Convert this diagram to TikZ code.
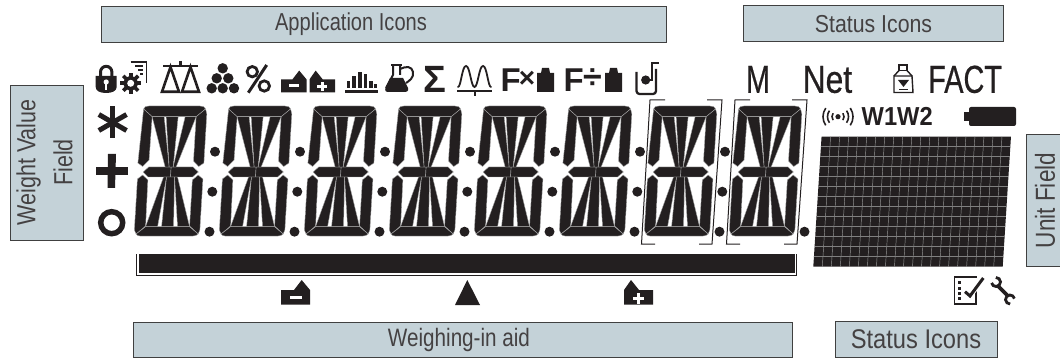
\documentclass[tikz,border=0pt]{standalone}
\usepackage{fontspec}
\setmainfont{Liberation Sans}
\newfontfamily\lblfont[FakeStretch=.82]{Liberation Sans}
\newfontfamily\dspfont[FakeStretch=.74,FakeBold=.5]{Liberation Sans}
\definecolor{ink}{HTML}{231F20}
\definecolor{panel}{HTML}{C4D2D8}
\definecolor{sep}{HTML}{A8A8A8}
\tikzset{
  lbox/.style={draw=black!75,line width=.8pt,fill=panel,inner sep=0pt},
  ltext/.style={inner sep=0pt,text=ink!85,align=center,font=\lblfont\fontsize{24.5}{37}\selectfont},
  seg/.style={fill=ink,draw=sep,line width=.4pt,line join=round},
  solid ink/.style={fill=ink,draw=none},
  outl/.style={draw=ink,line width=2.6pt,fill=none},
  thin ink/.style={draw=ink,line width=1pt},
  dsptext/.style={text=ink,inner sep=0pt,font=\dspfont\fontsize{39}{39}\selectfont},
  icontext/.style={text=ink,inner sep=0pt},
}
\newcommand\lcddigit[1]{%
\begin{scope}[shift={(#1,236)},xslant=.06]
 \path[seg] (1,-127) .. controls (2,-129.5) and (3,-130) .. (6,-130) -- (57,-130) .. controls (60,-130) and (62,-129.5) .. (63,-127) -- (54,-119.3) -- (10,-119.3) -- cycle;
 \path[seg] (1,-127) -- (10,-119.3) -- (9.5,-76) -- (3.5,-69.5) -- (-1.5,-73) -- cycle;
 \path[seg] (63,-127) -- (54,-119.3) -- (54,-75) -- (59.5,-69.5) -- (64.5,-73) -- (64.5,-122) -- cycle;
 \path[seg] (4,-61) -- (9.5,-56) -- (10,-10) -- (1,-2) -- (-1,-6) -- (-1,-57) -- cycle;
 \path[seg] (59.5,-61) -- (54,-56) -- (54,-10) -- (63,-2) -- (64.5,-6) -- (64.5,-57) -- cycle;
 \path[seg] (1,-2) -- (10,-9.3) -- (54,-9.3) -- (63,-2) .. controls (62,-.5) and (60,0) .. (58,0) -- (5,0) .. controls (3,0) and (2,-.5) .. (1,-2) -- cycle;
 \path[seg] (4.4,-64) -- (9.5,-69) -- (32,-69) -- (32,-59) -- (9.5,-59) -- cycle;
 \path[seg] (59.5,-64) -- (54,-69) -- (32,-69) -- (32,-59) -- (54,-59) -- cycle;
 \path[seg] (10,-119.3) -- (22,-119.3) -- (30,-69) -- (26,-69) -- cycle;
 \path[seg] (24,-119.3) -- (36,-119.3) -- (34,-69) -- (30,-69) -- cycle;
 \path[seg] (43,-119.3) -- (54,-119.3) -- (37,-69) -- (34,-69) -- cycle;
 \path[seg] (25,-59) -- (28,-59) -- (22,-9.3) -- (10,-9.3) -- cycle;
 \path[seg] (28,-59) -- (36,-59) -- (38,-9.3) -- (26,-9.3) -- cycle;
 \path[seg] (36,-59) -- (39,-59) -- (54,-9.3) -- (42,-9.3) -- cycle;
\end{scope}}
\newcommand\minusicon[3]{% x y scale ; origin bottom-left
\begin{scope}[shift={(#1,#2)},scale=#3]
 \path[solid ink] (0,0) -- (0,-14.7) -- (13,-14.7) -- (20.7,-24.7) -- (29,-14.7) -- (29,0) -- cycle;
 \path[fill=white] (9,-9) rectangle (20.7,-6);
\end{scope}}
\newcommand\plusicon[3]{%
\begin{scope}[shift={(#1,#2)},scale=#3]
 \path[solid ink] (0,0) -- (0,-14.7) -- (7,-24.7) -- (15,-14.7) -- (29,-14.7) -- (29,0) -- cycle;
 \path[fill=white] (9,-7.9) rectangle (20,-5);
 \path[fill=white] (13,-12) rectangle (16,-1);
\end{scope}}
\newcommand\massblock[1]{%
 \path[solid ink] (#1,92) -- (#1,73) -- (#1+4,73) -- (#1+5,68) -- (#1+12,68) -- (#1+13,73) -- (#1+17,73) -- (#1+17,92) -- cycle;}
\begin{document}
\begin{tikzpicture}[x=1pt,y=-1pt]
\useasboundingbox (0,0) rectangle (1060,358);
% label panels
\node[lbox,minimum width=565pt,minimum height=36pt] (appbox) at (383.5,24) {};
\node[ltext] (app) at (351,24) {Application Icons};
\node[lbox,minimum width=260pt,minimum height=36pt] (st1box) at (873,23.5) {};
\node[ltext,xscale=1.06,transform shape] (st1) at (873.5,24) {Status Icons};
\node[lbox,minimum width=73pt,minimum height=155pt] (wvfbox) at (46.5,162.5) {};
\node[ltext,font=\lblfont\fontsize{26.2}{37}\selectfont] (wvf) at (46.5,162.5) {\rotatebox{90}{\begin{tabular}{@{}c@{}}Weight Value\\Field\end{tabular}}};
\node[lbox,minimum width=40pt,minimum height=132pt] (ufbox) at (1046,200) {};
\node[ltext,font=\lblfont\fontsize{27.5}{37}\selectfont] (uf) at (1045,200.5) {\rotatebox{90}{Unit Field}};
\node[lbox,minimum width=659pt,minimum height=35pt] (wiabox) at (462.5,339.5) {};
\node[ltext,font=\lblfont\fontsize{25.2}{37}\selectfont] (wia) at (459,339.5) {Weighing-in aid};
\node[lbox,minimum width=162pt,minimum height=36pt] (st2box) at (916,339) {};
\node[ltext,font=\lblfont\fontsize{27}{37}\selectfont,xscale=1.07,transform shape] (st2) at (916,339) {Status Icons};
% digits
\foreach \k in {0,...,7} {\lcddigit{135+85*\k}}
\foreach \k in {0,...,6} {
  \path[solid ink] (215+85*\k,151.7) circle (5);
  \path[solid ink] (212.3+85*\k,191.7) circle (5);
}
\foreach \k in {0,...,7} {\path[solid ink] (209.5+85*\k,231.7) circle (5);}
% brackets
\foreach \k in {0,1} {
  \draw[thin ink] (665+85*\k,100) -- (650+85*\k,100) -- (641.5+85*\k,244) -- (655+85*\k,244);
  \draw[thin ink] (707+85*\k,100) -- (722+85*\k,100) -- (712+85*\k,244) -- (699+85*\k,244);
}
% bar
\path[solid ink] (138.5,254) rectangle (795,273);
\draw[thin ink] (136.7,254) -- (136.7,275.3) -- (796.8,275.3) -- (796.8,254);
% left symbols
\begin{scope}[shift={(112.7,122.5)}]
 \foreach \a in {90,-30,210} {\draw[draw=ink,line width=5pt] (0,0) -- ++(\a:16);}
 \foreach \a in {-90,30,150} {\draw[draw=ink,line width=5pt] (0,0) -- ++(\a:16);}
\end{scope}
\path[solid ink] (108,154) -- (116,154) -- (115,188) -- (107.5,188) -- cycle;
\path[solid ink] (95.7,167.5) rectangle (128.3,175.5);
\draw[draw=ink,line width=5.5pt] (111.7,222.7) circle (11);
% lock
\draw[draw=ink,line width=3pt] (100.5,76) -- (100.5,72) arc[start angle=180,end angle=360,radius=5.7] -- (111.9,76);
\path[solid ink] (95.7,76) -- (116.7,76) -- (116.7,87) .. controls (116.7,91) and (112,93) .. (106.2,93) .. controls (100,93) and (95.7,91) .. (95.7,87) -- cycle;
\path[fill=white] (106.2,82) circle (2.6);
\path[fill=white] (105,83) rectangle (107.4,90);
% document + gear
\draw[draw=ink,line width=1.4pt] (130.5,62) -- (146.3,62) -- (146.3,83);
\draw[draw=ink,line width=1.2pt] (135,66) -- (143,66) (138,70) -- (143,70) (140,74) -- (143,74);
\path[fill=white] (130.7,83.3) circle (11.5);
\foreach \a in {0,45,...,315} {\draw[draw=ink,line width=3.6pt] (130.7,83.3) -- ++(\a:10.5);}
\draw[draw=ink,line width=4pt] (130.7,83.3) circle (5.5);
\path[fill=white] (130.7,83.3) circle (3.5);
% balance
\draw[draw=ink,line width=2.4pt] (163,66) -- (198,66);
\draw[draw=ink,line width=2.6pt] (180.5,61) -- (180.5,66);
\draw[outl,line join=miter] (170.5,67) -- (162,91.8) -- (179,91.8) -- cycle;
\draw[outl,line join=miter] (190.5,67) -- (182,91.8) -- (199,91.8) -- cycle;
% dots
\foreach \p in {(222.7,68.3),(216.7,78.3),(228.3,78.3),(211.7,88.3),(222.7,88.3),(234,88.3)} {\path[solid ink] \p circle (5.2);}
% percent
\draw[draw=ink,line width=3pt] (266.7,65) -- (248.3,92.7);
\draw[draw=ink,line width=2.8pt] (252.3,71.7) circle (5.2);
\draw[draw=ink,line width=2.8pt] (264.3,86) circle (5.2);
% scale icons
\minusicon{281}{92.3}{.88}
\plusicon{309.5}{92.3}{.88}
% bars
\path[solid ink] (345,90.5) rectangle (378,93);
\path[solid ink] (347,81) rectangle (350,88.5);
\path[solid ink] (352,76) rectangle (355.5,88.5);
\path[solid ink] (357.5,72) rectangle (361.5,88.5);
\path[solid ink] (363.5,74) rectangle (367,88.5);
\path[solid ink] (369,81) rectangle (372.5,88.5);
\path[solid ink] (374,84) rectangle (377,88.5);
% flask
\draw[draw=ink,line width=2pt,line join=round] (393,66) -- (393,75) -- (386,88) (400,66) -- (400,75);
\path[solid ink] (390,78) -- (403,78) -- (408,88) .. controls (409,91) and (407,92) .. (404,92) -- (389,92) .. controls (386,92) and (384.5,91) .. (385.5,88) -- cycle;
\draw[draw=ink,line width=2pt] (391,65.5) -- (402,65.5);
\draw[draw=ink,line width=2pt] (400,69) .. controls (406,66) and (412,66) .. (413,72) .. controls (414,78) and (409,81) .. (406,83);
% sigma
\node[icontext,font=\bfseries\fontsize{38}{38}\selectfont] (sig) at (435,79.5) {Σ};
% wave
\draw[draw=ink,line width=1.8pt,line cap=round] (458,87) .. controls (461,87) and (462,66) .. (466,66) .. controls (470,66) and (471,87) .. (474.5,87) .. controls (478,87) and (479,66) .. (483,66) .. controls (487,66) and (488,87) .. (491,87);
\path[solid ink] (457,90.5) rectangle (492,92.5);
\path[solid ink] (473.5,92) rectangle (475.5,96.5);
% Fx
\node[icontext,font=\bfseries\fontsize{33}{33}\selectfont,anchor=base west] (f1) at (500.5,92) {F};
\node[icontext,font=\bfseries\fontsize{28}{28}\selectfont] (ftimes) at (527,79) {×};
\massblock{537}
% F/
\node[icontext,font=\bfseries\fontsize{33}{33}\selectfont,anchor=base west] (f2) at (563.5,92) {F};
\node[icontext,font=\bfseries\fontsize{34}{34}\selectfont] (fdiv) at (592.5,79) {÷};
\massblock{605}
% last icon
\draw[draw=ink,line width=2.3pt,line join=round,rounded corners=3pt] (636.5,72) -- (636.5,94) -- (656,94) -- (656,69);
\draw[draw=ink,line width=2pt] (658.5,63) -- (651.5,63) -- (651.5,80) -- (646,80);
\path[solid ink] (645.7,80) circle (4.6);
% display words
\node[dsptext,anchor=base] (m) at (758,92.8) {M};
\node[dsptext,anchor=base west,xscale=1.1,transform shape] (net) at (802.5,92.8) {Net};
\node[dsptext,anchor=base west] (fact) at (928,92.8) {FACT};
% calibration weight icon
\draw[draw=ink,line width=1.4pt] (899,65) rectangle (907,70.5);
\draw[draw=ink,line width=1.4pt] (894,76) -- (912,76) -- (913,92.5) -- (894,92.5) -- cycle;
\draw[draw=ink,line width=1.4pt] (899,70.5) -- (894,76) (907,70.5) -- (912,76);
\path[solid ink] (898,80) -- (909,80) -- (903.5,87) -- cycle;
\draw[draw=ink,line width=1.2pt] (899,89.5) -- (908,89.5);
% radio
\path[solid ink] (838,116.7) circle (2.6);
\foreach \r in {6,10.5,15} {
  \draw[draw=ink,line width=1.6pt] (838,116.7) ++(35:\r) arc[start angle=35,end angle=-35,radius=\r];
  \draw[draw=ink,line width=1.6pt] (838,116.7) ++(145:\r) arc[start angle=145,end angle=215,radius=\r];
}
% W1W2
\node[icontext,font=\bfseries\fontsize{26}{26}\selectfont,anchor=base west,xscale=.91,transform shape] (w) at (861.5,126) {W1W2};
% battery
\path[solid ink,rounded corners=2pt] (969,107) rectangle (1016,126);
\path[solid ink] (964,112) rectangle (969,121);
% matrix
\begin{scope}[shift={(813.3,266.7)},xslant=.0635]
 \path[fill=ink] (0,0) rectangle (189.4,-130);
 \foreach \i in {1,...,20} {\draw[draw=white!60!black,line width=.45pt] (\i*9.02,0) -- (\i*9.02,-130);}
 \foreach \j in {1,...,12} {\draw[draw=white!50!black,line width=.5pt] (0,-\j*10) -- (189.4,-\j*10);}
\end{scope}
% check list icon
\draw[draw=ink,line width=1.5pt] (954.5,277) rectangle (976,304);
\foreach \y in {282,288,293,298} {\path[solid ink] (958,\y-1) rectangle (961,\y+1.5);}
\path[fill=white] (973,277.6) rectangle (977,286);
\draw[draw=white,line width=5pt] (965,291.7) -- (970,296) -- (983.3,278);
\draw[draw=ink,line width=3pt] (965,291.7) -- (970,296) -- (983.3,278);
% wrench
\draw[draw=ink,line width=3.6pt] (998,286) -- (1008,296);
\draw[draw=ink,line width=2.8pt] (996,282) ++(268:4.5) arc[start angle=268,end angle=528,radius=4.5];
\draw[draw=ink,line width=2.8pt] (1010,299.5) ++(88:4.5) arc[start angle=88,end angle=348,radius=4.5];
% lower markers
\minusicon{281}{304.7}{1}
\path[solid ink] (467.3,280) -- (480,305) -- (455,305) -- cycle;
\plusicon{624}{304.7}{1}
\end{tikzpicture}
\end{document}
